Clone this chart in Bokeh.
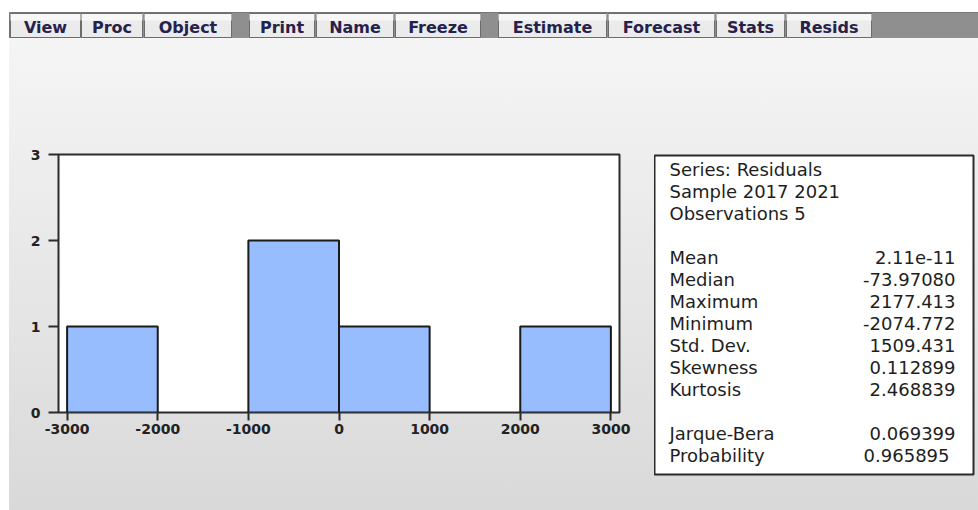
from bokeh.plotting import figure
from bokeh.layouts import column, row
from bokeh.models import Range1d, FixedTicker, Label, ColumnDataSource
from bokeh.core.properties import value
from bokeh.embed import file_html
from bokeh.resources import INLINE

# ---------------- data ----------------
bin_left = [-3000, -2000, -1000, 0, 1000, 2000]
bin_right = [-2000, -1000, 0, 1000, 2000, 3000]
counts = [1, 0, 2, 1, 0, 1]
x_ticks = [-3000, -2000, -1000, 0, 1000, 2000, 3000]
y_ticks = [0, 1, 2, 3]

stat_header = ["Series: Residuals", "Sample 2017 2021", "Observations 5"]
stat_names = ["Mean", "Median", "Maximum", "Minimum", "Std. Dev.", "Skewness", "Kurtosis"]
stat_values = ["2.11e-11", "-73.97080", "2177.413", "-2074.772", "1509.431", "0.112899", "2.468839"]
test_names = ["Jarque-Bera", "Probability"]
test_values = ["0.069399", "0.965895"]

menu_labels = ["View", "Proc", "Object", "Print", "Name", "Freeze",
               "Estimate", "Forecast", "Stats", "Resids"]

# ---------------- layout (page pixels) ----------------
W, H = 978, 510
TB_H = 38
MAIN_H = H - TB_H
button_edges = [(10, 80), (81, 142), (144, 231), (249, 314), (316, 393), (395, 480),
                (498, 606), (608, 714), (716, 784), (786, 871)]
HIST_W = 654
GRAD = ("linear-gradient(to right, #ffffff 9px, rgba(255,255,255,0) 9px), "
        "linear-gradient(to bottom, #f5f5f5, #d9d9d9)")

# ---------------- toolbar strip ----------------
tb = figure(width=W, height=TB_H, output_backend="svg", toolbar_location=None,
            x_range=Range1d(0, W), y_range=Range1d(TB_H, 0),
            x_axis_type=None, y_axis_type=None, min_border=0)
tb.frame_align = False
tb.outline_line_color = None
tb.background_fill_color = "white"
tb.border_fill_color = "white"
tb.xgrid.visible = False
tb.ygrid.visible = False
tb.quad(left=[9], right=[W], top=[12], bottom=[38], fill_color="#8f8f8f",
        line_color="#767676", line_width=1)
bsrc = ColumnDataSource(dict(
    left=[e[0] for e in button_edges], right=[e[1] for e in button_edges],
    xc=[(e[0] + e[1]) / 2 for e in button_edges], label=menu_labels))
tb.quad(left="left", right="right", top=13, bottom=37, source=bsrc,
        fill_color="#ebebeb", line_color="#6c6c6c", line_width=1)
tb.quad(left="left", right="right", top=13.5, bottom=20, source=bsrc,
        fill_color="#f7f7f7", line_color=None)
tb.text(x="xc", y=26.5, text="label", source=bsrc, text_align="center",
        text_baseline="middle", text_font=value("DejaVu Sans"),
        text_font_style="bold", text_font_size="16px", text_color="#25214d")

# ---------------- histogram ----------------
keep = [i for i, c in enumerate(counts) if c > 0]
src = ColumnDataSource(dict(
    left=[bin_left[i] for i in keep],
    right=[bin_right[i] for i in keep],
    top=[counts[i] for i in keep],
))

p = figure(width=HIST_W, height=MAIN_H, output_backend="svg", toolbar_location=None,
           x_range=Range1d(-3095, 3095), y_range=Range1d(0, 3),
           min_border_left=58, min_border_right=HIST_W - 619,
           min_border_top=154 - TB_H, min_border_bottom=H - 412)
p.frame_align = False
p.border_fill_color = None
p.styles = {"background": GRAD}
p.background_fill_color = "white"
p.outline_line_color = "#2b2b2b"
p.outline_line_width = 2
p.xgrid.visible = False
p.ygrid.visible = False

p.quad(left="left", right="right", top="top", bottom=0, source=src,
       fill_color="#97bdfe", line_color="#1a1a1a", line_width=2)

for ax, ticks, out, stand in ((p.xaxis[0], x_ticks, 8, 3), (p.yaxis[0], y_ticks, 10, 8)):
    ax.ticker = FixedTicker(ticks=ticks)
    ax.major_label_overrides = {t: str(t) for t in ticks}
    ax.axis_line_color = None
    ax.major_tick_out = out
    ax.major_tick_in = 0
    ax.minor_tick_line_color = None
    ax.major_tick_line_color = "#2b2b2b"
    ax.major_tick_line_width = 2
    ax.major_label_standoff = stand
    ax.major_label_text_font = "DejaVu Sans"
    ax.major_label_text_font_style = "bold"
    ax.major_label_text_font_size = "14px"
    ax.major_label_text_color = "#222222"

# ---------------- stats box ----------------
BOX_L, BOX_R, BOX_T, BOX_B = 654, 973, 155, 474
s = figure(width=W - HIST_W, height=MAIN_H, output_backend="svg", toolbar_location=None,
           x_range=Range1d(BOX_L, BOX_R), y_range=Range1d(BOX_B, BOX_T),
           x_axis_type=None, y_axis_type=None,
           min_border_left=BOX_L - HIST_W, min_border_right=W - BOX_R,
           min_border_top=BOX_T - TB_H, min_border_bottom=H - BOX_B)
s.frame_align = False
s.border_fill_color = None
s.styles = {"background": "linear-gradient(to bottom, #f5f5f5, #d9d9d9)"}
s.background_fill_color = "white"
s.outline_line_color = "#2b2b2b"
s.outline_line_width = 2
s.xgrid.visible = False
s.ygrid.visible = False


def txt_label(x, y, t, align):
    s.add_layout(Label(x=x, y=y, text=t, text_align=align, text_baseline="middle",
                       text_font="DejaVu Sans", text_font_size="18px",
                       text_color="#1e1e1e"))


base = 169
for i, t in enumerate(stat_header):
    txt_label(669, base + 22 * i, t, "left")
for i, (n, v) in enumerate(zip(stat_names, stat_values)):
    y = base + 22 * (4 + i)
    txt_label(669, y, n, "left")
    txt_label(955, y, v, "right")
for i, (n, v) in enumerate(zip(test_names, test_values)):
    y = base + 22 * (12 + i)
    txt_label(669, y, n, "left")
    txt_label(955 if i == 0 else 949, y, v, "right")

layout = column(tb, row(p, s, spacing=0), spacing=0)
open("out.html", "w").write(file_html(layout, INLINE))
